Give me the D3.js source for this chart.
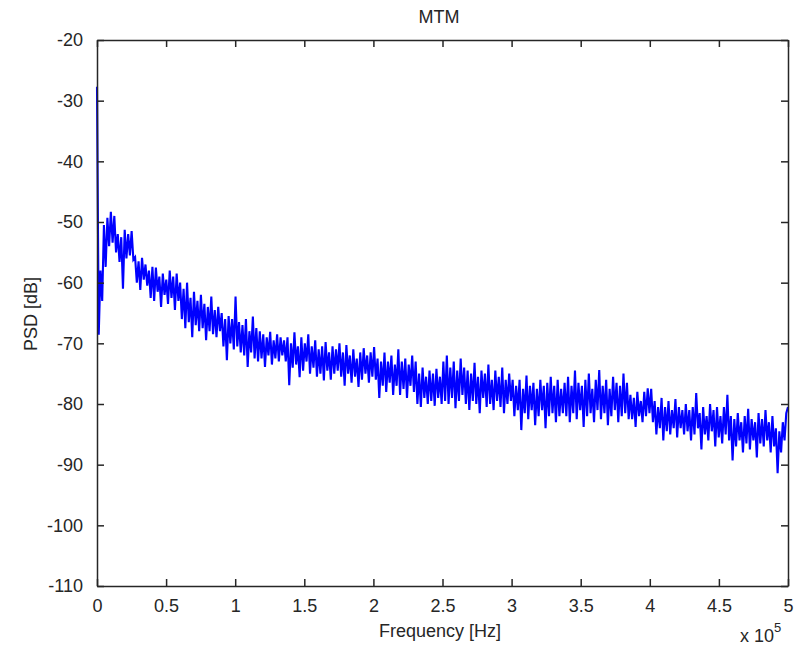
<!DOCTYPE html>
<html>
<head>
<meta charset="utf-8">
<script src="https://cdn.jsdelivr.net/npm/d3@7"></script>
<style>
  body { margin: 0; background: #fff; }
  svg { display: block; font-family: "Liberation Sans", Arial, sans-serif; }
  .axis path, .axis line { stroke: #262626; stroke-width: 1.5; }
  .axis text { fill: #262626; font-size: 18px; }
</style>
</head>
<body>
<svg id="chart" width="796" height="653"></svg>
<script>
// PSD estimate (dB), equally spaced frequency bins from 0 to 5e5 Hz
const psd = [
  -27.7, -68.6, -58, -63, -50.5, -57.4, -49.3, -54, -48.3, -53.4,
  -49, -55, -52, -56.6, -52.5, -61, -51.3, -56, -52, -55.5,
  -51.5, -56.2, -55.8, -60, -56.5, -61.2, -55.9, -59.5, -57, -60.5,
  -58, -62.5, -57.4, -63, -57.5, -61.5, -59, -64, -58.5, -62,
  -59.5, -63.5, -58, -62.5, -59, -64.5, -58.5, -63, -60, -66,
  -61, -67.5, -60, -66.5, -62.5, -69, -61.5, -67, -63, -68,
  -62, -67.5, -63.5, -69.5, -64, -68, -62.3, -68.5, -64.5, -69,
  -64, -68, -65, -70.5, -66, -72.8, -65.5, -70, -66, -71,
  -62.3, -70.5, -66.5, -71.5, -67, -72, -66, -73.9, -68, -71.5,
  -65.6, -72.5, -67.5, -73, -68, -72.5, -68.5, -73.9, -69, -72,
  -68.1, -73.5, -69.5, -72.5, -68.5, -73, -69, -72, -69.5, -73,
  -69, -76.9, -70, -74, -68.2, -73.5, -70.5, -75.6, -69, -74.5,
  -70, -73, -68.5, -75, -70.5, -74, -69.5, -75.5, -71, -75,
  -70.5, -76.1, -69.8, -74.5, -71.5, -76, -70.5, -75, -71, -74.5,
  -70, -75.5, -71.5, -77, -70.3, -75, -72, -76.5, -71, -75.5,
  -72.5, -77.2, -71.5, -76, -70.8, -75, -72, -76.5, -71.5, -75.5,
  -70.6, -76, -72.5, -79, -73, -77, -71.5, -78, -73, -76.5,
  -72, -78.5, -73.5, -77, -71, -78.5, -73, -77.5, -72.5, -79,
  -73.5, -77, -72, -78, -73, -80, -75, -80.5, -74, -79,
  -75.5, -80, -74.5, -79.5, -75, -80.3, -74.2, -79, -75.5, -80,
  -73, -79.5, -72, -80, -74, -79, -73, -80.7, -74.5, -79.5,
  -72.5, -78.5, -74, -80, -74.5, -81, -75, -79.5, -73.2, -80,
  -75.5, -81.5, -74.5, -79, -75, -80.5, -73.5, -80, -76, -81,
  -74.5, -79.5, -75.5, -80.5, -74, -81.5, -76, -80, -75, -79.5,
  -76, -82, -77, -81, -76, -84.3, -77.5, -81.5, -75.3, -82.5,
  -77, -81, -76.5, -83.5, -77.5, -82, -76, -81, -77, -84,
  -76.5, -82, -75.5, -81.5, -77, -83, -76, -82, -77.5, -81.5,
  -76.5, -82, -75.5, -83, -77, -81.5, -74.5, -82.5, -76.5, -81,
  -77, -83.8, -76, -82, -75, -81.5, -77.5, -83, -76, -81,
  -74.4, -82.5, -77, -81.5, -76, -83.5, -77.5, -82, -75.5, -81,
  -76.5, -83, -77, -82, -75, -81.5, -76.5, -82.5, -78.5, -82.5,
  -79, -83.8, -78, -82, -79.5, -83, -78, -82, -77.4, -81.5,
  -77.5, -83, -79.5, -85, -80.5, -84, -79, -86, -80.5, -84.5,
  -79.5, -85, -81, -84, -79.2, -85.5, -80.5, -84, -81, -85,
  -80, -84.5, -81, -86, -80.5, -85, -78.2, -84, -81.5, -87.5,
  -80.5, -85, -82, -86, -80, -84.5, -81, -87, -80.5, -85.5,
  -82, -86.5, -80.5, -85, -78.5, -86, -82, -89.3, -82.5, -87,
  -81.5, -86, -83, -88, -82, -86.5, -80.8, -87.5, -82.5, -86,
  -83, -88.8, -81.5, -86.5, -82.5, -87, -81, -86, -83, -88,
  -82, -87, -84, -91.4, -84.5, -88, -83, -86, -81.5, -80.5
];

const fMax = 5e5;
const xTicks = [0, 0.5, 1, 1.5, 2, 2.5, 3, 3.5, 4, 4.5, 5];
const yTicks = [-110, -100, -90, -80, -70, -60, -50, -40, -30, -20];

const svg = d3.select("#chart");
const margin = { left: 97, right: 8, top: 40, bottom: 67 };
const width = 796;
const height = 653;

const x = d3.scaleLinear().domain([0, 5]).range([margin.left, width - margin.right]);
const y = d3.scaleLinear().domain([-110, -20]).range([height - margin.bottom, margin.top]);

// frequency of each bin, in units of 1e5 Hz
const step = fMax / (psd.length - 1);
const points = psd.map((v, i) => ({ f: (i * step) / 1e5, v }));

const line = d3.line().x((d) => x(d.f)).y((d) => y(d.v));

svg
  .append("path")
  .datum(points)
  .attr("fill", "none")
  .attr("stroke", "#0000ff")
  .attr("stroke-width", 2.1)
  .attr("d", line);

const fmt = (d) => String(d);

svg
  .append("g")
  .attr("class", "axis")
  .attr("transform", `translate(0,${y(-110)})`)
  .call(d3.axisBottom(x).tickValues(xTicks).tickFormat(fmt).tickSizeInner(-7).tickSizeOuter(0).tickPadding(13));

svg
  .append("g")
  .attr("class", "axis")
  .attr("transform", `translate(0,${y(-20)})`)
  .call(d3.axisTop(x).tickValues(xTicks).tickFormat("").tickSizeInner(-7).tickSizeOuter(0));

svg
  .append("g")
  .attr("class", "axis")
  .attr("transform", `translate(${x(0)},0)`)
  .call(d3.axisLeft(y).tickValues(yTicks).tickFormat(fmt).tickSizeInner(-7).tickSizeOuter(0).tickPadding(14));

svg
  .append("g")
  .attr("class", "axis")
  .attr("transform", `translate(${x(5)},0)`)
  .call(d3.axisRight(y).tickValues(yTicks).tickFormat("").tickSizeInner(-7).tickSizeOuter(0));

// labels
svg
  .append("text")
  .attr("x", 439)
  .attr("y", 23)
  .attr("text-anchor", "middle")
  .attr("font-size", 18)
  .attr("fill", "#262626")
  .text("MTM");

svg
  .append("text")
  .attr("x", 440)
  .attr("y", 637)
  .attr("text-anchor", "middle")
  .attr("font-size", 18)
  .attr("fill", "#262626")
  .text("Frequency [Hz]");

svg
  .append("text")
  .attr("transform", "translate(37,314) rotate(-90)")
  .attr("text-anchor", "middle")
  .attr("font-size", 18)
  .attr("fill", "#262626")
  .text("PSD [dB]");

const exp = svg
  .append("text")
  .attr("x", 740)
  .attr("y", 642)
  .attr("font-size", 18)
  .attr("fill", "#262626");
exp.append("tspan").text("x 10");
exp.append("tspan").attr("dy", -10).attr("font-size", 13).text("5");
</script>
</body>
</html>
